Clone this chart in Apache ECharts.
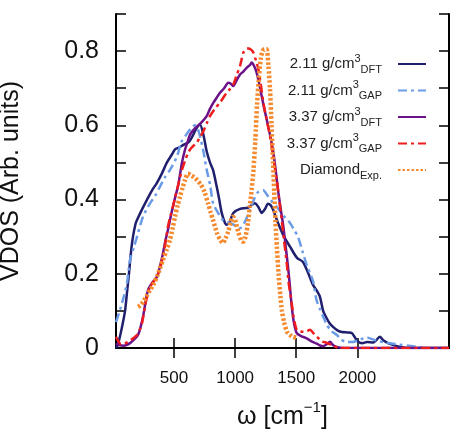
<!DOCTYPE html>
<html>
<head>
<meta charset="utf-8">
<script src="https://cdn.jsdelivr.net/npm/echarts@6/dist/echarts.min.js"></script>
<style>html,body{margin:0;padding:0;background:#fff;}#c{width:455px;height:436px;}</style>
</head>
<body>
<div id="c"></div>
<script>
// ---- data (omega in cm^-1, VDOS in arb. units) ----
const seriesNames = ['d211', 'g211', 'd337', 'g337', 'dia'];
const legendMain = ['2.11 g/cm', '2.11 g/cm', '3.37 g/cm', '3.37 g/cm', 'Diamond'];
const legendSup = ['3', '3', '3', '3', ''];
const legendSub = ['DFT', 'GAP', 'DFT', 'GAP', 'Exp.'];
const yTickLabels = [0, 0.2, 0.4, 0.6, 0.8];
const xTickLabels = [500, 1000, 1500, 2000];

const dft211 = [[25,0.0],[41,0.01],[70,0.05],[99,0.10],[115,0.15],[131,0.20],[148,0.26],[164,0.30],[185,0.335],[197,0.345],[240,0.375],[279,0.40],[320,0.425],[360,0.445],[400,0.47],[442,0.50],[480,0.52],[508,0.535],[540,0.54],[580,0.548],[620,0.555],[650,0.57],[680,0.59],[712,0.602],[740,0.575],[767,0.53],[794,0.50],[819,0.48],[849,0.435],[870,0.40],[890,0.364],[917,0.337],[931,0.332],[955,0.34],[985,0.364],[1040,0.375],[1105,0.378],[1162,0.39],[1190,0.38],[1217,0.364],[1245,0.375],[1268,0.389],[1290,0.385],[1310,0.373],[1351,0.337],[1400,0.30],[1449,0.273],[1506,0.243],[1555,0.232],[1600,0.2],[1637,0.17],[1667,0.155],[1694,0.138],[1720,0.1],[1735,0.089],[1770,0.068],[1801,0.057],[1840,0.047],[1874,0.043],[1920,0.042],[1956,0.040],[1997,0.02],[2040,0.013],[2079,0.016],[2131,0.015],[2185,0.03],[2215,0.02],[2251,0.013],[2324,0.005],[2420,0.0],[2750,0.0]];
const gap211 = [[25,0.07],[58,0.103],[90,0.14],[115,0.175],[140,0.238],[170,0.27],[197,0.30],[246,0.354],[303,0.39],[345,0.41],[385,0.435],[425,0.46],[467,0.48],[524,0.516],[560,0.555],[600,0.575],[640,0.592],[670,0.6],[700,0.585],[740,0.53],[767,0.48],[795,0.44],[819,0.39],[850,0.37],[900,0.345],[972,0.335],[1040,0.323],[1080,0.34],[1122,0.373],[1160,0.405],[1187,0.42],[1230,0.425],[1260,0.413],[1300,0.395],[1342,0.38],[1400,0.355],[1449,0.337],[1480,0.32],[1514,0.30],[1555,0.256],[1590,0.22],[1637,0.18],[1665,0.13],[1694,0.105],[1720,0.085],[1751,0.062],[1790,0.045],[1833,0.035],[1870,0.022],[1915,0.016],[1960,0.016],[2000,0.02],[2040,0.025],[2079,0.028],[2120,0.024],[2158,0.02],[2215,0.016],[2280,0.012],[2349,0.009],[2420,0.006],[2490,0.003],[2560,0.0]];
const dft337 = [[25,0.012],[50,0.008],[90,0.006],[140,0.013],[180,0.025],[205,0.035],[225,0.055],[246,0.084],[265,0.12],[287,0.156],[320,0.175],[360,0.192],[385,0.22],[410,0.256],[430,0.29],[450,0.318],[470,0.35],[491,0.381],[512,0.41],[532,0.435],[550,0.47],[565,0.5],[590,0.535],[610,0.555],[631,0.575],[665,0.59],[699,0.60],[730,0.61],[767,0.625],[795,0.645],[822,0.661],[850,0.675],[876,0.688],[910,0.70],[944,0.715],[965,0.712],[985,0.706],[1010,0.72],[1040,0.737],[1067,0.745],[1094,0.755],[1120,0.762],[1135,0.769],[1155,0.76],[1176,0.742],[1195,0.715],[1217,0.679],[1238,0.645],[1258,0.616],[1285,0.575],[1313,0.526],[1335,0.47],[1354,0.418],[1375,0.37],[1394,0.328],[1415,0.27],[1435,0.211],[1450,0.16],[1463,0.112],[1480,0.07],[1504,0.04],[1540,0.032],[1585,0.026],[1625,0.018],[1667,0.012],[1700,0.006],[1722,0.005],[1750,0.01],[1776,0.017],[1800,0.008],[1831,0.003],[1886,0.0],[2750,0.0]];
const gap337 = [[25,0.03],[45,0.018],[66,0.01],[95,0.012],[123,0.016],[160,0.025],[197,0.035],[220,0.05],[238,0.067],[262,0.111],[280,0.14],[303,0.165],[330,0.178],[360,0.192],[385,0.215],[410,0.247],[430,0.285],[450,0.327],[470,0.355],[491,0.381],[508,0.405],[524,0.426],[545,0.455],[565,0.48],[590,0.505],[614,0.525],[631,0.535],[660,0.545],[685,0.553],[712,0.568],[740,0.584],[767,0.605],[794,0.625],[835,0.645],[876,0.661],[904,0.675],[931,0.688],[958,0.698],[985,0.71],[1012,0.735],[1040,0.76],[1067,0.796],[1090,0.806],[1108,0.807],[1130,0.804],[1149,0.796],[1170,0.775],[1190,0.751],[1210,0.71],[1231,0.661],[1258,0.615],[1285,0.571],[1313,0.51],[1340,0.454],[1360,0.40],[1381,0.346],[1400,0.29],[1422,0.229],[1440,0.17],[1463,0.121],[1480,0.08],[1504,0.049],[1530,0.045],[1558,0.044],[1585,0.045],[1613,0.049],[1640,0.04],[1667,0.031],[1710,0.018],[1749,0.014],[1800,0.006],[1858,0.0],[2750,0.0]];
const diamondExp = [[205,0.111],[225,0.115],[246,0.124],[275,0.14],[303,0.156],[330,0.17],[360,0.192],[385,0.215],[410,0.238],[440,0.265],[467,0.292],[490,0.325],[508,0.354],[530,0.385],[549,0.408],[570,0.432],[590,0.453],[614,0.47],[640,0.465],[665,0.46],[690,0.452],[720,0.44],[750,0.42],[778,0.39],[800,0.365],[819,0.345],[851,0.31],[880,0.29],[900,0.283],[920,0.295],[942,0.313],[965,0.34],[983,0.354],[1000,0.345],[1025,0.313],[1050,0.29],[1065,0.286],[1085,0.30],[1105,0.337],[1120,0.38],[1135,0.427],[1150,0.48],[1165,0.56],[1180,0.66],[1195,0.73],[1210,0.78],[1225,0.80],[1240,0.805],[1258,0.805],[1272,0.76],[1285,0.70],[1298,0.6],[1310,0.5],[1320,0.42],[1330,0.34],[1342,0.27],[1355,0.2],[1370,0.14],[1383,0.1],[1400,0.07],[1424,0.044],[1450,0.035],[1473,0.03],[1500,0.028]];

const seriesData = [dft211, gap211, dft337, gap337, diamondExp];
const colors = ['#1f1f6e', '#6a9be6', '#6b1289', '#ee1c1c', '#f58a2e'];
const lineTypes = ['solid', [9, 4, 3, 4], 'solid', [9, 4, 3, 4], [2.5, 2]];
const lineWidths = [2.5, 2.5, 2.5, 2.5, 4.5];

const FONT = "'Liberation Sans', Arial, Helvetica, sans-serif";
const chart = echarts.init(document.getElementById('c'), null, {renderer: 'canvas'});

const legendText = {};
seriesNames.forEach((n, i) => {
  legendText[n] = legendMain[i] + (legendSup[i] ? '{sup|' + legendSup[i] + '}' : '') + '{sub|' + legendSub[i] + '}';
});

const option = {
  backgroundColor: '#fff',
  animation: false,
  grid: {left: 116, right: 6, top: 14, bottom: 88, outerBoundsMode: 'none', containLabel: false},
  legend: {
    data: seriesNames,
    orient: 'vertical',
    align: 'right',
    right: 28,
    top: 53,
    padding: 0,
    itemWidth: 28,
    itemHeight: 14,
    itemGap: 4.5,
    itemStyle: {opacity: 0},
    formatter: n => legendText[n],
    textStyle: {
      fontFamily: FONT, fontSize: 15, color: '#222', lineHeight: 22,
      padding: [0, 11, 0, 0],
      rich: {
        sup: {fontFamily: FONT, fontSize: 11, lineHeight: 11, verticalAlign: 'top', color: '#222'},
        sub: {fontFamily: FONT, fontSize: 11, lineHeight: 11, verticalAlign: 'bottom', color: '#222'}
      }
    }
  },
  xAxis: [{
    type: 'value', min: 25, max: 2750,
    name: '{a|ω [cm}{s|−1}{a|]}',
    nameLocation: 'middle', nameGap: 52,
    nameTextStyle: {
      rich: {
        a: {fontFamily: FONT, fontSize: 25, color: '#111', lineHeight: 30, verticalAlign: 'bottom'},
        s: {fontFamily: FONT, fontSize: 15, color: '#111', lineHeight: 15, verticalAlign: 'top'}
      }
    },
    axisLine: {lineStyle: {color: '#000', width: 2}},
    axisTick: {inside: true, length: 10, lineStyle: {color: '#000', width: 1.5}, customValues: xTickLabels},
    axisLabel: {customValues: xTickLabels, formatter: v => String(v), fontFamily: FONT, fontSize: 17, color: '#111', margin: 22},
    splitLine: {show: false}
  }, {
    type: 'value', min: 25, max: 2750, position: 'top',
    axisLine: {lineStyle: {color: '#000', width: 2}},
    axisTick: {inside: true, length: 10, lineStyle: {color: '#000', width: 1.5}, customValues: xTickLabels},
    axisLabel: {show: false},
    splitLine: {show: false}
  }],
  yAxis: [{
    type: 'value', min: 0, max: 0.9, interval: 0.1,
    name: 'VDOS (Arb. units)',
    nameLocation: 'middle', nameGap: 92,
    nameTextStyle: {fontFamily: FONT, fontSize: 25, color: '#111'},
    axisLine: {lineStyle: {color: '#000', width: 2}},
    axisTick: {inside: true, length: 10, lineStyle: {color: '#000', width: 1.5}},
    axisLabel: {
      customValues: yTickLabels,
      formatter: v => (Math.abs(v) < 1e-9 ? '0' : v.toFixed(1)),
      fontFamily: FONT, fontSize: 25, color: '#111', margin: 17
    },
    splitLine: {show: false}
  }, {
    type: 'value', min: 0, max: 0.9, interval: 0.1, position: 'right',
    axisLine: {lineStyle: {color: '#000', width: 2}},
    axisTick: {inside: true, length: 10, lineStyle: {color: '#000', width: 1.5}},
    axisLabel: {show: false},
    splitLine: {show: false}
  }],
  series: seriesNames.map((n, i) => ({
    name: n,
    type: 'line',
    xAxisIndex: 0, yAxisIndex: 0,
    data: seriesData[i],
    symbol: 'none',
    smooth: 0.25,
    color: colors[i],
    lineStyle: {color: colors[i], width: lineWidths[i], type: lineTypes[i]},
    z: 2 + i
  }))
};
chart.setOption(option);
</script>
</body>
</html>
